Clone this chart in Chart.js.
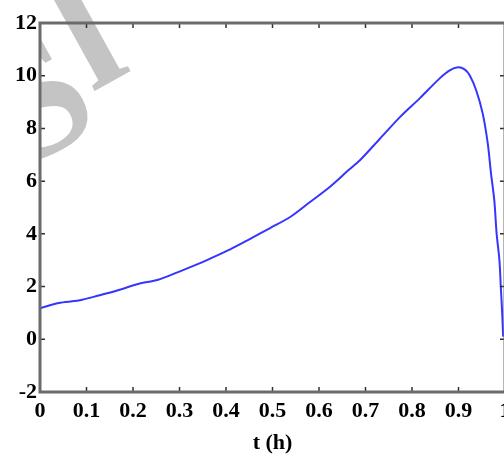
<!DOCTYPE html>
<html>
<head>
<meta charset="utf-8">
<script src="https://cdn.jsdelivr.net/npm/chart.js@4/dist/chart.umd.min.js"></script>
<style>
  html, body { margin: 0; padding: 0; overflow: hidden; background: #fff; }
  #wrap { width: 530px; height: 455px; }
</style>
</head>
<body>
<div id="wrap"><canvas id="chart" width="530" height="455"></canvas></div>
<script>
// time (h) and the measured curve
const tValues = [0, 0.04, 0.083, 0.126, 0.168, 0.211, 0.254, 0.297, 0.339, 0.366,
  0.409, 0.452, 0.495, 0.538, 0.58, 0.623, 0.665, 0.688, 0.731,
  0.774, 0.817, 0.859, 0.881, 0.899, 0.913, 0.924, 0.938, 0.952, 0.963,
  0.97, 0.977, 0.982, 0.988, 0.991, 0.994, 0.996]
const yValues = [1.18, 1.38, 1.47, 1.66, 1.86, 2.1, 2.26, 2.55, 2.85, 3.06,
  3.41, 3.81, 4.22, 4.64, 5.2, 5.78, 6.44, 6.79, 7.61,
  8.43, 9.15, 9.89, 10.2, 10.32, 10.24, 10.02, 9.45, 8.57, 7.42,
  6.28, 5.27, 4.01, 3.0, 1.98, 0.97, 0.1]

const xTicks = [0, 0.1, 0.2, 0.3, 0.4, 0.5, 0.6, 0.7, 0.8, 0.9, 1]
const xTickLabels = ['0', '0.1', '0.2', '0.3', '0.4', '0.5', '0.6', '0.7', '0.8', '0.9', '1']
const yTicks = [-2, 0, 2, 4, 6, 8, 10, 12]
const yTickLabels = ['-2', '0', '2', '4', '6', '8', '10', '12']

const points = tValues.map((t, i) => ({ x: t, y: yValues[i] }))

const labelFont = { family: 'Liberation Serif', size: 22, weight: 'bold' }

// light diagonal stamp behind the plot, kept right of the y axis
const stamp = {
  id: 'stamp',
  beforeDraw(chart) {
    const c = chart.ctx
    c.save()
    c.beginPath()
    c.rect(chart.chartArea.left, 0, chart.width, chart.height)
    c.clip()
    c.translate(22, 170)
    c.rotate(-29 * Math.PI / 180)
    c.fillStyle = '#c4c4c4'
    c.font = 'bold 170px "Liberation Serif"'
    c.textBaseline = 'alphabetic'
    c.fillText('S', 0, 0)
    c.fillText('l', c.measureText('S').width + 4, -34)
    c.restore()
  }
}

// box round the plot with short inward ticks on all four sides
const frame = {
  id: 'frame',
  afterDraw(chart) {
    const c = chart.ctx
    const a = chart.chartArea
    const xs = chart.scales.x
    const ys = chart.scales.y
    const len = 5
    c.save()
    c.strokeStyle = '#303030'
    c.lineWidth = 1.5
    c.beginPath()
    xTicks.forEach(v => {
      const px = xs.getPixelForValue(v)
      c.moveTo(px, a.bottom); c.lineTo(px, a.bottom - len)
      c.moveTo(px, a.top); c.lineTo(px, a.top + len)
    })
    yTicks.forEach(v => {
      const py = ys.getPixelForValue(v)
      c.moveTo(a.left, py); c.lineTo(a.left + len, py)
      c.moveTo(a.right, py); c.lineTo(a.right - len, py)
    })
    c.stroke()
    c.strokeStyle = '#6b6b6b'
    c.lineWidth = 3
    c.strokeRect(a.left, a.top, a.right - a.left, a.bottom - a.top)
    c.restore()
  }
}

new Chart(document.getElementById('chart'), {
  type: 'line',
  data: {
    datasets: [{
      data: points,
      borderColor: '#3535ff',
      borderWidth: 2,
      pointRadius: 0,
      tension: 0.3,
      fill: false
    }]
  },
  options: {
    responsive: false,
    animation: false,
    layout: { padding: { top: 23, right: 25, left: 0, bottom: 0 } },
    plugins: { legend: { display: false }, tooltip: { enabled: false } },
    scales: {
      x: {
        type: 'linear',
        min: 0,
        max: 1,
        afterBuildTicks: s => { s.ticks = xTicks.map(v => ({ value: v })) },
        afterFit: s => { s.height = 63 },
        grid: { display: false, drawTicks: false },
        border: { display: false },
        ticks: {
          color: '#000',
          font: labelFont,
          padding: 6,
          maxRotation: 0,
          autoSkip: false,
          callback: (v, i) => xTickLabels[i]
        },
        title: {
          display: true,
          text: 't (h)',
          color: '#000',
          font: labelFont,
          padding: { top: 0, bottom: -2 }
        }
      },
      y: {
        type: 'linear',
        min: -2,
        max: 12,
        afterBuildTicks: s => { s.ticks = yTicks.map(v => ({ value: v })) },
        afterFit: s => { s.width = 40 },
        grid: { display: false, drawTicks: false },
        border: { display: false },
        ticks: {
          color: '#000',
          font: labelFont,
          padding: 3,
          autoSkip: false,
          callback: (v, i) => yTickLabels[i]
        }
      }
    }
  },
  plugins: [stamp, frame]
})
</script>
</body>
</html>
